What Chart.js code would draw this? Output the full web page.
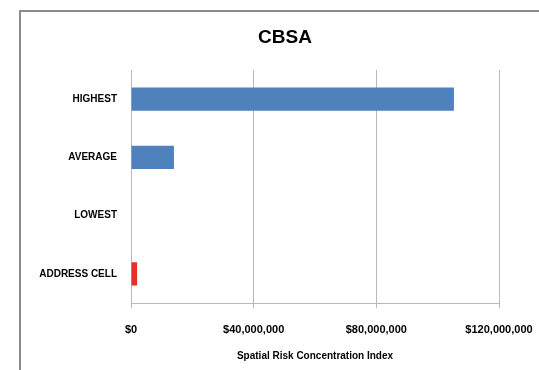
<!DOCTYPE html>
<html>
<head>
<meta charset="utf-8">
<script src="https://cdn.jsdelivr.net/npm/chart.js@4"></script>
<style>
  html, body { margin: 0; padding: 0; background: #fff; overflow: hidden; }
  #wrap { position: relative; width: 539px; height: 370px; }
  #frame { position: absolute; left: 19px; top: 10px; width: 600px; height: 500px;
           border: 2px solid #8c8c8c; box-sizing: border-box; pointer-events: none; }
  canvas { position: absolute; left: 0; top: 0; }
</style>
</head>
<body>
<div id="wrap">
  <canvas id="c" width="539" height="370"></canvas>
  <div id="frame"></div>
</div>
<script>
const categories = ["HIGHEST", "AVERAGE", "LOWEST", "ADDRESS CELL"];
const values = [105300000, 14000000, 0, 2000000];
const barColors = ["#4F81BD", "#4F81BD", "#4F81BD", "#E8302A"];
const xTicks = [0, 40000000, 80000000, 120000000];
const chartTitle = "CBSA";
const xTitle = "Spatial Risk Concentration Index";

const fontFam = "'Liberation Sans', Arial, sans-serif";

function money(v) {
  return "$" + Math.round(v).toString().replace(/\B(?=(\d{3})+(?!\d))/g, ",");
}

// Title drawn centred on the framed chart area (Excel places it off the plot centre)
const offsetTitle = {
  id: "offsetTitle",
  afterDraw(chart) {
    const ctx = chart.ctx;
    ctx.save();
    ctx.font = "bold 19px " + fontFam;
    ctx.fillStyle = "#000";
    ctx.textAlign = "center";
    ctx.textBaseline = "middle";
    ctx.fillText(chartTitle, 285, 38);
    ctx.restore();
  }
};

new Chart(document.getElementById("c"), {
  type: "bar",
  data: {
    labels: categories,
    datasets: [{
      data: values,
      backgroundColor: barColors,
      borderWidth: 0,
      categoryPercentage: 1.0,
      barPercentage: 0.4
    }]
  },
  plugins: [offsetTitle],
  options: {
    indexAxis: "y",
    responsive: false,
    animation: false,
    devicePixelRatio: 1,
    layout: { padding: { left: 20, right: 40, top: 70, bottom: 0 } },
    plugins: {
      legend: { display: false },
      tooltip: { enabled: false },
      title: { display: false }
    },
    scales: {
      x: {
        min: 0, max: 120000000,
        afterBuildTicks: (s) => { s.ticks = xTicks.map(v => ({ value: v })); },
        afterFit: (s) => { s.height = 67; s.paddingLeft = 0; s.paddingRight = 0; },
        grid: { color: "#b8b8b8", lineWidth: 1, drawTicks: true, tickLength: 5, tickColor: "#b8b8b8" },
        border: { display: true, color: "#b8b8b8" },
        ticks: {
          color: "#000",
          font: { family: fontFam, size: 11, weight: "bold" },
          padding: 15,
          maxRotation: 0,
          callback: (v) => money(v)
        },
        title: {
          display: true,
          text: xTitle,
          color: "#000",
          font: { family: fontFam, size: 10, weight: "bold" },
          padding: { top: 2, bottom: 8 }
        }
      },
      y: {
        afterFit: (s) => { s.width = 111; s.paddingTop = 0; s.paddingBottom = 0; },
        grid: { display: false, drawTicks: false },
        border: { display: true, color: "#b8b8b8" },
        ticks: {
          color: "#000",
          font: { family: fontFam, size: 10, weight: "bold" },
          padding: 14
        }
      }
    }
  }
});
</script>
</body>
</html>
